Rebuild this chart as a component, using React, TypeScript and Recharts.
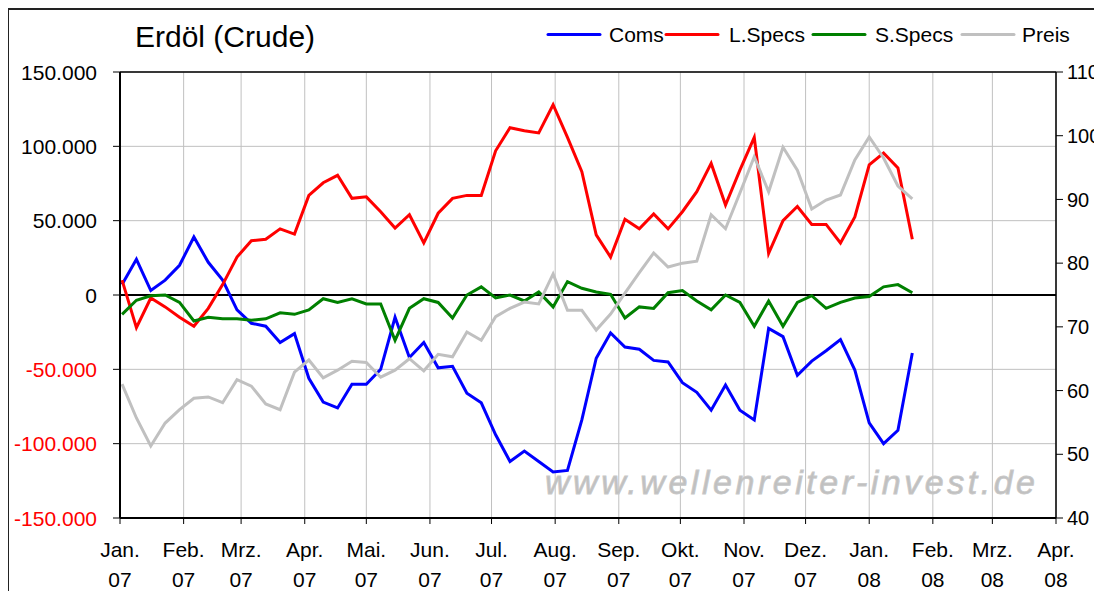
import React from 'react';
import { ComposedChart, Line, XAxis, YAxis, CartesianGrid, ReferenceLine } from 'recharts';

const dates = [
  '2007-01-02', '2007-01-09', '2007-01-16', '2007-01-23', '2007-01-30',
  '2007-02-06', '2007-02-13', '2007-02-20', '2007-02-27',
  '2007-03-06', '2007-03-13', '2007-03-20', '2007-03-27',
  '2007-04-03', '2007-04-10', '2007-04-17', '2007-04-24',
  '2007-05-01', '2007-05-08', '2007-05-15', '2007-05-22', '2007-05-29',
  '2007-06-05', '2007-06-12', '2007-06-19', '2007-06-26',
  '2007-07-03', '2007-07-10', '2007-07-17', '2007-07-24', '2007-07-31',
  '2007-08-07', '2007-08-14', '2007-08-21', '2007-08-28',
  '2007-09-04', '2007-09-11', '2007-09-18', '2007-09-25',
  '2007-10-02', '2007-10-09', '2007-10-16', '2007-10-23', '2007-10-30',
  '2007-11-06', '2007-11-13', '2007-11-20', '2007-11-27',
  '2007-12-04', '2007-12-11', '2007-12-18', '2007-12-25',
  '2008-01-01', '2008-01-08', '2008-01-15', '2008-01-22',
];

const coms = [
  7000, 24000, 3000, 10000, 20000, 39000, 22000, 10000, -10000, -19000,
  -21000, -32000, -26000, -56000, -72000, -76000, -60000, -60000, -50000, -15000,
  -42000, -32000, -49000, -48000, -66000, -72500, -94000, -112000, -105000, -112000,
  -119000, -118000, -84000, -42500, -25500, -35000, -36500, -44000, -45000, -59000,
  -65500, -77500, -60500, -77500, -84000, -22500, -28000, -54000, -44500, -37500,
  -30000, -50500, -86000, -100000, -91000, -39000,
];

const lSpecs = [
  10000, -22000, -2000, -8000, -15000, -21000, -9000, 7000, 25500, 36500,
  37500, 44500, 41000, 67000, 75500, 80500, 65000, 66000, 56000, 45000,
  54000, 35000, 55000, 65000, 67000, 67000, 97000, 112500, 110500, 109000,
  128000, 106000, 83000, 40500, 25500, 51000, 44500, 54500, 44500, 56000,
  69500, 88500, 60500, 84000, 106000, 28000, 50000, 59500, 47500, 47500,
  35000, 52500, 87500, 95500, 85500, 37500,
];

const sSpecs = [
  -13000, -3500, -500, 0, -5000, -17500, -15000, -16000, -16000, -17000,
  -16000, -12000, -13000, -10000, -2500, -5000, -2500, -6000, -6000, -30500,
  -9000, -2500, -5000, -15500, 0, 5500, -2000, 0, -4000, 2000,
  -8000, 9000, 4500, 2000, 500, -15500, -8000, -9000, 1500, 3000,
  -4000, -10000, 0, -5000, -21000, -4000, -21000, -5000, -500, -9000,
  -5000, -2000, -1000, 5500, 7000, 1500,
];

const preis = [
  61.0, 55.7, 51.3, 54.9, 57.0, 58.8, 59.0, 58.1, 61.7, 60.7,
  57.9, 57.0, 62.9, 64.8, 62.0, 63.2, 64.6, 64.4, 62.1, 63.2,
  65.0, 63.1, 65.7, 65.3, 69.2, 67.9, 71.6, 72.9, 73.9, 73.6,
  78.3, 72.6, 72.6, 69.5, 72.0, 75.3, 78.5, 81.6, 79.4, 80.0,
  80.3, 87.6, 85.4, 91.0, 96.7, 91.2, 98.2, 94.6, 88.5, 89.9,
  90.7, 96.2, 99.8, 96.5, 92.1, 90.1,
];

const monthStarts = [
  '2007-01-01', '2007-02-01', '2007-03-01', '2007-04-01', '2007-05-01', '2007-06-01',
  '2007-07-01', '2007-08-01', '2007-09-01', '2007-10-01', '2007-11-01', '2007-12-01',
  '2008-01-01', '2008-02-01', '2008-03-01', '2008-04-01',
];
const monthLabels = ['Jan.', 'Feb.', 'Mrz.', 'Apr.', 'Mai.', 'Jun.', 'Jul.', 'Aug.', 'Sep.', 'Okt.', 'Nov.', 'Dez.', 'Jan.', 'Feb.', 'Mrz.', 'Apr.'];
const yearLabels = ['07', '07', '07', '07', '07', '07', '07', '07', '07', '07', '07', '07', '08', '08', '08', '08'];

const leftTicks = [-150000, -100000, -50000, 0, 50000, 100000, 150000];
const rightTicks = [40, 50, 60, 70, 80, 90, 100, 110];

const seriesInfo = [
  { key: 'coms', name: 'Coms', color: '#0000ff' },
  { key: 'lSpecs', name: 'L.Specs', color: '#ff0000' },
  { key: 'sSpecs', name: 'S.Specs', color: '#008000' },
  { key: 'preis', name: 'Preis', color: '#c0c0c0' },
];

const FONT = '"Liberation Sans", Arial, Helvetica, sans-serif';
const ORIGIN = Date.parse('2007-01-01');
const toDay = (s: string) => Math.round((Date.parse(s) - ORIGIN) / 86400000);

const monthDays = monthStarts.map(toDay);

const data = dates.map((d, i) => ({
  day: toDay(d),
  coms: coms[i],
  lSpecs: lSpecs[i],
  sSpecs: sSpecs[i],
  preis: preis[i],
}));

const fmt = (v: number) => {
  const s = Math.abs(v).toString().replace(/\B(?=(\d{3})+(?!\d))/g, '.');
  return (v < 0 ? '-' : '') + s;
};

const LeftTick = (props: any) => {
  const { x, y, payload } = props;
  const v = payload.value;
  return (
    <text x={x} y={y} dy="0.36em" textAnchor="end" fontSize={21} fontFamily={FONT} fill={v < 0 ? '#ff0000' : '#000000'}>
      {fmt(v)}
    </text>
  );
};

const RightTick = (props: any) => {
  const { x, y, payload } = props;
  return (
    <text x={x} y={y} dy="0.36em" textAnchor="start" fontSize={20} fontFamily={FONT} fill="#000000">
      {payload.value}
    </text>
  );
};

const XTick = (props: any) => {
  const { x, y, payload } = props;
  const idx = monthDays.indexOf(payload.value);
  return (
    <g>
      <text x={x} y={y + 33} textAnchor="middle" fontSize={21} fontFamily={FONT} fill="#000000">
        {monthLabels[idx]}
      </text>
      <text x={x} y={y + 63} textAnchor="middle" fontSize={21} fontFamily={FONT} fill="#000000">
        {yearLabels[idx]}
      </text>
    </g>
  );
};

const legendLayout = [
  { lineX: 540, textX: 601 },
  { lineX: 658, textX: 721 },
  { lineX: 805, textX: 867 },
  { lineX: 954, textX: 1014 },
];

export default function App() {
  const W = 1094;
  const H = 583;
  return (
    <div style={{ position: 'relative', width: W, height: H, fontFamily: FONT }}>
      <ComposedChart
        width={W}
        height={H}
        data={data}
        margin={{ top: 64, right: 0, bottom: 0, left: 0 }}
      >
        <CartesianGrid yAxisId="left" stroke="#c0c0c0" strokeWidth={1} />
        <XAxis
          dataKey="day"
          type="number"
          domain={[monthDays[0], monthDays[monthDays.length - 1]]}
          ticks={monthDays}
          interval={0}
          height={73}
          tickSize={6}
          tickMargin={0}
          tick={<XTick />}
          axisLine={{ stroke: '#000000', strokeWidth: 2 }}
          tickLine={{ stroke: '#000000' }}
        />
        <YAxis
          yAxisId="left"
          orientation="left"
          domain={[-150000, 150000]}
          ticks={leftTicks}
          interval={0}
          width={112}
          tickSize={7}
          tickMargin={16}
          tick={<LeftTick />}
          axisLine={{ stroke: '#000000', strokeWidth: 2 }}
          tickLine={{ stroke: '#000000' }}
        />
        <YAxis
          yAxisId="right"
          orientation="right"
          domain={[40, 110]}
          ticks={rightTicks}
          interval={0}
          width={46}
          tickSize={7}
          tickMargin={4}
          tick={<RightTick />}
          axisLine={{ stroke: '#000000', strokeWidth: 1.5 }}
          tickLine={{ stroke: '#000000' }}
        />
        <ReferenceLine yAxisId="left" y={150000} stroke="#000000" strokeWidth={1.5} />
        <ReferenceLine yAxisId="left" y={0} stroke="#000000" strokeWidth={2} />
        <Line yAxisId="left" type="linear" dataKey="coms" stroke="#0000ff" strokeWidth={3} dot={false} isAnimationActive={false} />
        <Line yAxisId="left" type="linear" dataKey="lSpecs" stroke="#ff0000" strokeWidth={3} dot={false} isAnimationActive={false} />
        <Line yAxisId="left" type="linear" dataKey="sSpecs" stroke="#008000" strokeWidth={3} dot={false} isAnimationActive={false} />
        <Line yAxisId="right" type="linear" dataKey="preis" stroke="#c0c0c0" strokeWidth={3} dot={false} isAnimationActive={false} />
      </ComposedChart>

      <svg width={W} height={H} style={{ position: 'absolute', left: 0, top: 0, pointerEvents: 'none' }}>
        <text x={127} y={38.7} fontSize={30} fontFamily={FONT} fill="#000000">Erdöl (Crude)</text>
        {seriesInfo.map((s, i) => (
          <g key={s.key}>
            <line x1={legendLayout[i].lineX} x2={legendLayout[i].lineX + 52} y1={26.5} y2={26.5} stroke={s.color} strokeWidth={3} strokeLinecap="round" />
            <text x={legendLayout[i].textX} y={33.5} fontSize={21} fontFamily={FONT} fill="#000000">{s.name}</text>
          </g>
        ))}
        <text
          x={537}
          y={486}
          fontSize={34}
          fontStyle="italic"
          fontFamily={FONT}
          fill="#c0c0c0"
          stroke="#c8c8c8"
          strokeWidth={0.8}
          textLength={490}
          lengthAdjust="spacing"
        >
          www.wellenreiter-invest.de
        </text>
      </svg>

      <div
        style={{
          position: 'absolute',
          left: -1,
          top: 0,
          width: W + 1,
          height: H,
          boxSizing: 'border-box',
          borderLeft: '2px solid #222',
          borderTop: '2px solid #222',
          pointerEvents: 'none',
        }}
      />
    </div>
  );
}
